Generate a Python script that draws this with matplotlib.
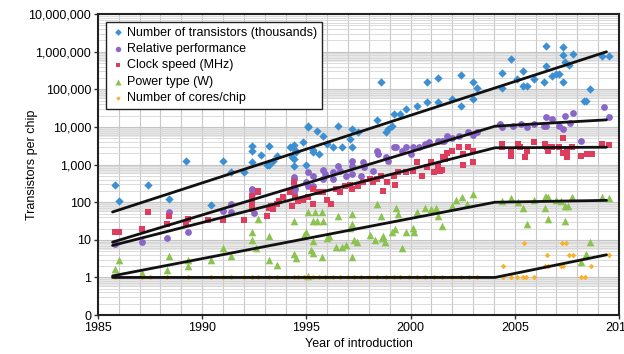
import numpy as np
import matplotlib
matplotlib.use("Agg")
from matplotlib import pyplot as plt
from matplotlib.ticker import FixedLocator, NullFormatter

# ---- data ----
trans_year = [1985.8, 1986.0, 1987.4, 1988.4, 1989.2, 1990.4, 1991.0, 1991.4, 1992.0, 1992.4,
              1992.4, 1992.4, 1992.8, 1993.1, 1993.2, 1993.2, 1993.4, 1993.6, 1994.2, 1994.3,
              1994.4, 1994.4, 1994.45, 1994.5, 1994.4, 1994.85, 1995.0, 1995.1, 1995.1, 1995.3,
              1995.3, 1995.5, 1995.6, 1995.8, 1996.0, 1996.3, 1996.5, 1996.7, 1997.1, 1997.2,
              1997.2, 1997.5, 1998.4, 1998.6, 1998.8, 1998.9, 1999.1, 1999.2, 1999.5, 1999.8,
              2000.3, 2000.8, 2000.8, 2001.3, 2001.3, 2002.0, 2002.4, 2002.4, 2003.0, 2003.0,
              2003.2, 2004.4, 2004.4, 2004.8, 2005.1, 2005.4, 2005.4, 2005.6, 2005.9, 2006.4,
              2006.5, 2006.5, 2006.8, 2007.0, 2007.1, 2007.3, 2007.3, 2007.3, 2007.4, 2007.6,
              2007.8, 2008.3, 2008.4, 2008.6, 2009.2, 2009.5]
trans_val = [280, 110, 280, 125, 1230, 83, 1230, 620, 620, 3200,
             2250, 1150, 1750, 1000, 3200, 950, 1230, 1650, 3000, 1550,
             3400, 900, 2500, 2100, 1380, 3900, 1000, 9800, 10400, 2500,
             2100, 7600, 1860, 5600, 3500, 3000, 10400, 3000, 4700, 9100,
             2900, 7200, 15800, 155000, 7200, 8700, 10500, 21900, 21900, 29500,
             37000, 155000, 45000, 195000, 45000, 57000, 235000, 37000, 155000, 57000,
             112000, 112000, 280000, 630000, 186000, 300000, 120000, 120000, 186000, 162000,
             1400000, 410000, 224000, 251000, 251000, 1300000, 800000, 155000, 550000, 457000,
             850000, 48000, 48000, 100000, 760000, 760000]

perf_year = [1985.8, 1987.1, 1988.3, 1988.4, 1989.3, 1991.0, 1991.4, 1991.4, 1992.4, 1992.4,
             1992.4, 1992.5, 1994.4, 1994.4, 1994.4, 1994.45, 1994.4, 1995.0, 1995.1, 1995.1,
             1995.3, 1995.3, 1995.8, 1995.8, 1995.9, 1996.3, 1996.3, 1996.5, 1996.6, 1996.9,
             1997.2, 1997.2, 1997.2, 1997.6, 1997.7, 1997.75, 1998.2, 1998.4, 1998.45, 1998.8,
             1998.9, 1999.2, 1999.3, 1999.6, 1999.8, 2000.0, 2000.1, 2000.4, 2000.7, 2000.9,
             2001.3, 2001.5, 2001.6, 2001.75, 2002.0, 2002.3, 2002.75, 2003.0, 2003.2, 2004.3,
             2004.4, 2004.9, 2005.3, 2005.6, 2005.9, 2006.4, 2006.5, 2006.5, 2006.8, 2007.1,
             2007.3, 2007.4, 2007.65, 2007.8, 2008.2, 2009.3, 2009.5]
perf_val = [7.6, 8.5, 11, 54, 16.6, 57, 87, 54, 220, 205,
            162, 53, 460, 407, 263, 219, 182, 355, 617, 263,
            490, 263, 741, 407, 550, 617, 407, 891, 661, 490,
            1230, 891, 550, 490, 1150, 851, 661, 2240, 1860, 1550,
            1230, 2880, 2880, 2240, 3020, 1860, 2880, 3020, 3470, 3890,
            4170, 4170, 4170, 5620, 5250, 5620, 7240, 6310, 7590, 11750,
            9770, 10470, 11750, 9770, 11750, 10470, 18200, 10470, 15850, 10470,
            8710, 19050, 12590, 22900, 4170, 33100, 18200]

clock_year = [1985.8, 1986.0, 1987.1, 1987.4, 1988.3, 1988.4, 1989.3, 1989.2, 1990.3, 1991.0,
              1992.0, 1992.4, 1992.4, 1992.4, 1992.7, 1992.7, 1993.1, 1993.2, 1993.3, 1993.4,
              1993.6, 1993.7, 1993.9, 1994.2, 1994.3, 1994.4, 1994.45, 1994.6, 1994.85, 1995.1,
              1995.3, 1995.3, 1995.5, 1995.8, 1996.0, 1996.2, 1996.4, 1996.6, 1996.85, 1997.1,
              1997.2, 1997.5, 1997.7, 1998.05, 1998.2, 1998.4, 1998.6, 1998.7, 1998.85, 1999.2,
              1999.25, 1999.4, 1999.8, 2000.1, 2000.3, 2000.55, 2000.8, 2001.0, 2001.1, 2001.3,
              2001.4, 2001.55, 2001.5, 2001.65, 2001.75, 2002.0, 2002.3, 2002.5, 2002.5, 2002.75,
              2003.0, 2003.0, 2004.4, 2004.4, 2004.8, 2004.8, 2005.15, 2005.25, 2005.5, 2005.6,
              2005.9, 2006.45, 2006.55, 2006.6, 2006.8, 2007.1, 2007.3, 2007.3, 2007.5, 2007.5,
              2007.75, 2008.2, 2008.45, 2008.7, 2009.2, 2009.5]
clock_val = [16.6, 16.6, 20, 54, 26, 42, 35, 26, 33, 33,
             33, 98, 150, 65, 182, 195, 42, 72, 80, 65,
             87, 105, 141, 182, 78, 339, 141, 105, 117, 135,
             87, 219, 182, 182, 117, 87, 219, 182, 263, 295,
             219, 263, 339, 407, 339, 407, 490, 195, 355, 490,
             295, 617, 617, 661, 1150, 490, 851, 1150, 617, 891,
             661, 1550, 741, 1380, 2090, 2240, 2880, 1860, 1000, 3020,
             2240, 1150, 3470, 2880, 1660, 2510, 3470, 2880, 1550, 2240,
             3890, 3470, 2880, 2240, 3020, 3020, 5010, 2090, 1550, 2240,
             3020, 1660, 1860, 1860, 3470, 3240]

power_year = [1985.8, 1986.0, 1987.1, 1988.3, 1988.4, 1989.3, 1989.3, 1990.4, 1991.0, 1991.4,
              1992.4, 1992.4, 1992.6, 1992.7, 1993.2, 1993.2, 1993.6, 1994.4, 1994.4, 1994.5,
              1994.9, 1995.1, 1995.1, 1995.2, 1995.3, 1995.3, 1995.3, 1995.4, 1995.0, 1995.5,
              1995.75, 1995.75, 1995.8, 1996.0, 1996.1, 1996.4, 1996.5, 1996.7, 1996.9, 1997.1,
              1997.2, 1997.2, 1997.2, 1997.3, 1997.45, 1998.05, 1998.3, 1998.4, 1998.6, 1998.65,
              1998.7, 1998.75, 1999.1, 1999.25, 1999.3, 1999.4, 1999.6, 1999.8, 2000.1, 2000.15,
              2000.3, 2000.7, 2001.0, 2001.2, 2001.3, 2001.5, 2002.0, 2002.2, 2002.45, 2002.7,
              2003.0, 2004.4, 2004.8, 2005.15, 2005.4, 2005.6, 2005.9, 2006.45, 2006.5, 2006.6,
              2006.45, 2006.6, 2007.0, 2007.2, 2007.4, 2007.55, 2007.4, 2007.75, 2008.6, 2008.4,
              2008.2, 2009.2, 2009.5]
power_val = [1.7, 3.0, 1.3, 1.6, 3.8, 2.0, 3.0, 3.0, 5.9, 3.8,
             15.8, 10, 5.9, 35, 12.3, 3.0, 2.2, 31, 4.1, 3.2,
             13.8, 54, 1.1, 5.5, 31, 4.6, 9.1, 54, 15.8, 31,
             54, 3.4, 31, 11.5, 12.3, 6.3, 42, 6.6, 7.1, 21,
             26, 48, 3.4, 10, 8.5, 13.8, 10, 87, 42, 11.5,
             12.3, 8.5, 15.8, 19, 72, 48, 5.9, 16.6, 21, 15.8,
             54, 69, 65, 72, 42, 23, 78, 117, 135, 87,
             162, 105, 126, 100, 72, 26, 117, 141, 135, 135,
             72, 35, 117, 105, 78, 78, 31, 135, 8.5, 4.1,
             2.5, 135, 126]

cores_year = [1985.8, 1987.1, 1987.5, 1988.3, 1989.3, 1990.4, 1991.0, 1991.4, 1992.0, 1992.4,
              1992.7, 1993.2, 1993.6, 1994.0, 1994.4, 1994.6, 1994.9, 1995.1, 1995.3, 1995.6,
              1995.9, 1996.3, 1996.6, 1997.0, 1997.3, 1997.6, 1998.0, 1998.4, 1998.8, 1999.2,
              1999.5, 1999.9, 2000.3, 2000.7, 2001.1, 2001.5, 2002.0, 2002.4, 2002.8, 2003.2,
              2004.45, 2004.45, 2004.8, 2005.1, 2005.4, 2005.45, 2005.55, 2005.9, 2006.45, 2006.55,
              2006.6, 2007.2, 2007.25, 2007.3, 2007.45, 2007.6, 2007.8, 2008.2, 2008.35, 2008.65,
              2009.5]
cores_val = [1] * 40 + [2, 1, 1, 1, 1, 8, 1, 1, 2, 4,
                        2, 2, 8, 2, 8, 4, 4, 1, 1, 2,
                        4]

# trend lines (year breakpoints, values)
trend_trans = ([1985.7, 2009.4], [55, 1.0e6])
trend_perf = ([1985.7, 2004.05, 2009.4], [8.7, 10500, 15500])
trend_clock = ([1985.7, 2004.05, 2009.4], [7.1, 2800, 2900])
trend_power = ([1985.7, 2004.05, 2009.4], [1.1, 100, 112])
trend_cores = ([1985.7, 2004.05, 2009.4], [1, 1, 4])

ytick_vals = [0.1, 1, 10, 100, 1e3, 1e4, 1e5, 1e6, 1e7]
ytick_labels = ["0", "1", "10", "100", "1,000", "10,000", "100,000", "1,000,000", "10,000,000"]
xtick_vals = [1985, 1990, 1995, 2000, 2005, 2010]

plt.rcParams["font.family"] = ["Liberation Sans Narrow", "Liberation Sans", "DejaVu Sans"]

fig = plt.figure(figsize=(6.24, 3.54), dpi=100)
ax = fig.add_axes([0.157, 0.110, 0.835, 0.850])
ax.set_yscale("log")
ax.set_xlim(1985, 2010)
ax.set_ylim(0.1, 1e7)

# background: gray bands under each decade, minor grid, yearly grid
for k in range(-1, 7):
    ax.axhspan(0.55 * 10 ** k, 10 ** k, color="#e8e8e8", lw=0, zorder=0)
ax.yaxis.set_minor_locator(FixedLocator([m * 10.0 ** k for k in range(-1, 7) for m in range(2, 10)]))
ax.yaxis.set_minor_formatter(NullFormatter())
ax.grid(True, which="minor", axis="y", color="#d6d6d6", lw=0.6, zorder=0.5)
ax.grid(True, which="major", axis="y", color="#c4c4c4", lw=0.8, zorder=0.5)
for yr in range(1986, 2010):
    ax.axvline(yr, color="#c8c8c8", lw=0.8, zorder=0.6)

ax.scatter(trans_year, trans_val, marker="D", s=18, color="#3b8fd2", lw=0, zorder=3,
           label="Number of transistors (thousands)")
ax.scatter(perf_year, perf_val, marker="o", s=24, color="#8a66c6", lw=0, zorder=3,
           label="Relative performance")
ax.scatter(clock_year, clock_val, marker="s", s=18, color="#de3d5e", lw=0, zorder=3,
           label="Clock speed (MHz)")
ax.scatter(power_year, power_val, marker="^", s=30, color="#8cc24f", lw=0, zorder=3,
           label="Power type (W)")
ax.scatter(cores_year, cores_val, marker="D", s=8, color="#f6b22c", lw=0, zorder=3,
           label="Number of cores/chip")

for xs, ys in [trend_trans, trend_perf, trend_clock, trend_power, trend_cores]:
    ax.plot(xs, ys, color="#111111", lw=2, zorder=4, solid_capstyle="round")

ax.set_yticks(ytick_vals)
ax.set_yticklabels(ytick_labels)
ax.set_xticks(xtick_vals)
ax.set_xticklabels([str(x) for x in xtick_vals])
ax.tick_params(axis="both", which="major", labelsize=9, length=3, width=1, color="#333333", pad=2)
ax.tick_params(axis="y", which="minor", length=0)
for sp in ax.spines.values():
    sp.set_linewidth(1.5)
    sp.set_color("#222222")

ax.set_xlabel("Year of introduction", fontsize=9)
ax.xaxis.set_label_coords(0.5, -0.075)
ax.set_ylabel("Transistors per chip", fontsize=9)
ax.yaxis.set_label_coords(-0.115, 0.5)

leg = ax.legend(loc="upper left", bbox_to_anchor=(0.015, 0.975), fontsize=9, frameon=True,
                fancybox=False, handletextpad=0.1, labelspacing=0.35, borderpad=0.4,
                handlelength=1.2, markerscale=0.8, borderaxespad=0)
leg.get_frame().set_edgecolor("#222222")
leg.get_frame().set_linewidth(1.0)
leg.get_frame().set_alpha(1)
leg.set_zorder(5)

fig.savefig("out.png", dpi=100)
